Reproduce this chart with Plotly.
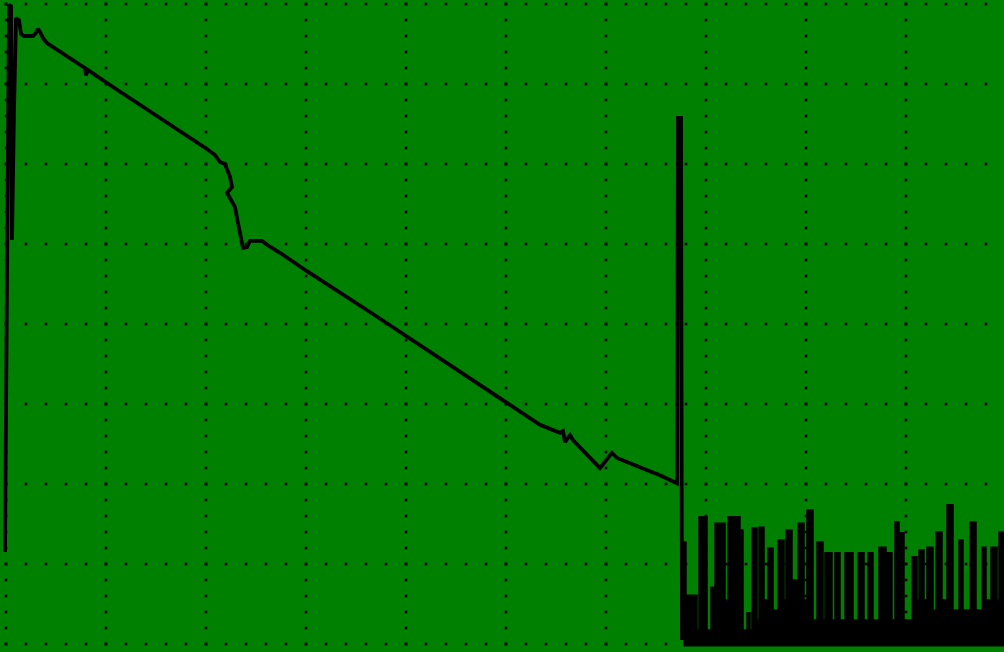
import numpy as np
import plotly.graph_objects as go

# OTDR-style trace, both axes in screen divisions (10 x 8 graticule)
trace_x = [-0.01, 0.01, 0.03, 0.05, 0.06, 0.08, 0.10, 0.13, 0.15, 0.18, 0.27, 0.30,
           0.32, 0.34, 0.37, 0.41, 0.79, 0.80, 0.82, 1.01, 1.64,
           2.01, 2.09, 2.14, 2.19, 2.24, 2.26, 2.21, 2.24, 2.29, 2.32, 2.36, 2.37,
           2.41, 2.44, 2.56, 2.61, 2.74, 3.01, 3.67, 4.34, 4.67, 4.84,
           5.34, 5.54, 5.57, 5.59, 5.64, 5.67, 5.94, 6.06, 6.11, 6.34, 6.54,
           6.71, 6.72, 6.75, 6.76]
trace_y = [1.15, 5.55, 7.99, 7.975, 5.05, 6.675, 7.825, 7.80, 7.625, 7.60, 7.60, 7.64,
           7.69, 7.65, 7.575, 7.51, 7.20, 7.11, 7.175, 7.0125, 6.50,
           6.1875, 6.1125, 6.025, 6.00, 5.84, 5.71, 5.64, 5.575, 5.46, 5.26, 5.05, 4.95,
           4.96, 5.04, 5.04, 4.99, 4.89, 4.66, 4.125, 3.575, 3.30, 3.1625,
           2.74, 2.64, 2.66, 2.525, 2.61, 2.55, 2.20, 2.39, 2.325, 2.21, 2.11,
           2.01, 6.575, 6.575, 0.05]

# Noise floor after the fibre end: step segments (start position, level)
noise_x = [6.77, 6.80, 6.91, 6.93, 7.01, 7.05, 7.09, 7.19, 7.22, 7.34, 7.37, 7.41,
           7.44, 7.46, 7.51, 7.53, 7.58, 7.62, 7.67, 7.72, 7.78, 7.80, 7.86, 7.92,
           7.98, 8.01, 8.07, 8.11, 8.17, 8.19, 8.26, 8.29, 8.34, 8.39, 8.47, 8.52,
           8.58, 8.62, 8.67, 8.73, 8.80, 8.86, 8.89, 8.93, 8.98, 9.06, 9.11, 9.13,
           9.18, 9.21, 9.27, 9.30, 9.36, 9.41, 9.47, 9.53, 9.57, 9.64, 9.70, 9.76,
           9.80, 9.85, 9.91, 9.93, 9.98]
noise_level = [1.275, 0.61, 0.175, 1.59, 0.175, 0.71, 1.51, 0.55, 1.59, 1.425, 0.175, 0.39,
               0.175, 1.45, 0.30, 1.46, 0.55, 1.20, 0.425, 1.30, 0.55, 1.425, 0.80, 1.51,
               0.55, 1.675, 0.30, 1.275, 0.30, 1.14, 0.30, 1.14, 0.30, 1.14, 0.30, 1.14,
               0.30, 1.14, 0.30, 1.21, 1.14, 0.30, 1.525, 1.39, 0.30, 1.09, 0.55, 1.175,
               0.55, 1.21, 0.425, 1.40, 0.55, 1.74, 0.425, 1.30, 0.425, 1.525, 0.425, 1.21,
               0.55, 1.21, 0.55, 1.40, 1.40]

GREEN = "#008000"
INK = "#000000"

fig = go.Figure()

# dotted graticule: 10 x 8 divisions, 5 dots per division along each line
gx, gy = [], []
for row in range(9):
    xs = np.arange(0, 10.01, 0.2)
    gx.extend(xs)
    gy.extend([row] * len(xs))
for col in range(11):
    ys = np.arange(0, 8.01, 0.2)
    gx.extend([col] * len(ys))
    gy.extend(ys)
fig.add_trace(go.Scatter(x=gx, y=gy, mode="markers", hoverinfo="skip",
                         marker=dict(symbol="square", size=2.6, color=INK,
                                     line=dict(width=0))))

# noise floor
fig.add_trace(go.Scatter(x=noise_x, y=noise_level, mode="lines", line_shape="hv",
                         fill="tozeroy", fillcolor=INK,
                         line=dict(color=INK, width=1.5)))
fig.add_trace(go.Scatter(x=[noise_x[0], noise_x[-1]], y=[-0.01, -0.01], mode="lines",
                         line=dict(color=INK, width=3.5)))

# backscatter trace
fig.add_trace(go.Scatter(x=trace_x, y=trace_y, mode="lines",
                         line=dict(color=INK, width=3.8)))

fig.update_layout(
    width=1004, height=652,
    margin=dict(l=0, r=0, t=0, b=0),
    paper_bgcolor=GREEN, plot_bgcolor=GREEN,
    showlegend=False,
    xaxis=dict(range=[-0.06, 9.98], visible=False, showgrid=False, zeroline=False),
    yaxis=dict(range=[-0.1, 8.05], visible=False, showgrid=False, zeroline=False),
)

fig.write_html("out.html")
